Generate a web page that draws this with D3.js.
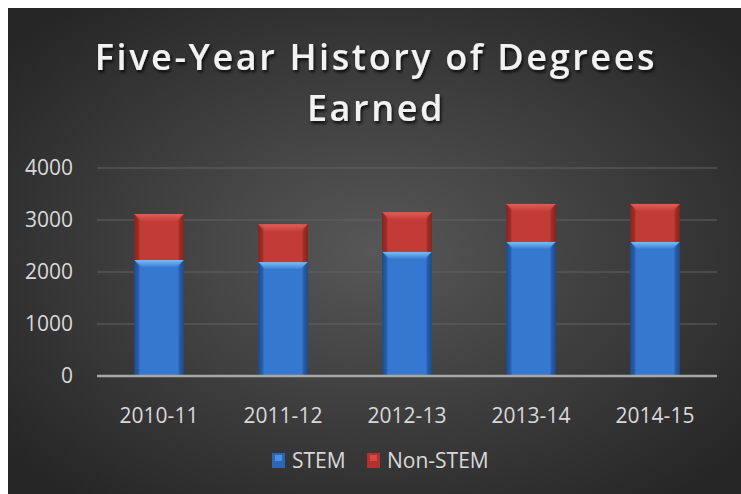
<!DOCTYPE html>
<html>
<head>
<meta charset="utf-8">
<script src="https://cdn.jsdelivr.net/npm/d3@7"></script>
<style>
  html, body { margin: 0; padding: 0; background: #fff; }
  svg { display: block; font-family: "Open Sans", sans-serif; }
</style>
</head>
<body>
<svg id="chart" width="741" height="494"></svg>
<script>
// chart data
const years = ["2010-11", "2011-12", "2012-13", "2013-14", "2014-15"];
const stem = [2230, 2190, 2390, 2580, 2580];
const nonStem = [885, 730, 760, 730, 730];
const yTicks = [0, 1000, 2000, 3000, 4000];
const seriesNames = ["STEM", "Non-STEM"];

const svg = d3.select("#chart");
const W = 741, H = 494;
const margin = {left: 97, right: 24, top: 168, bottom: 118};

const defs = svg.append("defs");

// background panel gradient
const bg = defs.append("radialGradient").attr("id", "bg")
  .attr("cx", "50%").attr("cy", "50%").attr("r", "65%");
bg.append("stop").attr("offset", "0%").attr("stop-color", "#575757");
bg.append("stop").attr("offset", "100%").attr("stop-color", "#262626");

// bar gradients (darker at the sides)
function barGrad(id, edge, mid) {
  const g = defs.append("linearGradient").attr("id", id)
    .attr("x1", 0).attr("x2", 1).attr("y1", 0).attr("y2", 0);
  g.append("stop").attr("offset", "0%").attr("stop-color", edge);
  g.append("stop").attr("offset", "12%").attr("stop-color", mid);
  g.append("stop").attr("offset", "88%").attr("stop-color", mid);
  g.append("stop").attr("offset", "100%").attr("stop-color", edge);
}
barGrad("blueGrad", "#234f8e", "#3478cf");
barGrad("redGrad", "#8e2622", "#c33b36");

// top bevel gradients (light fading down)
function bevelGrad(id, col) {
  const g = defs.append("linearGradient").attr("id", id)
    .attr("x1", 0).attr("x2", 0).attr("y1", 0).attr("y2", 1);
  g.append("stop").attr("offset", "0%").attr("stop-color", col).attr("stop-opacity", 0.95);
  g.append("stop").attr("offset", "100%").attr("stop-color", col).attr("stop-opacity", 0.1);
}
bevelGrad("blueBevel", "#7cc4f7");
bevelGrad("redBevel", "#e2615a");

const shadow = defs.append("filter").attr("id", "tshadow")
  .attr("x", "-10%").attr("y", "-20%").attr("width", "120%").attr("height", "150%");
shadow.append("feDropShadow").attr("dx", 1.5).attr("dy", 2.5)
  .attr("stdDeviation", 1.5).attr("flood-color", "#000").attr("flood-opacity", 0.8);

svg.append("rect").attr("x", 8).attr("y", 8)
  .attr("width", W - 8).attr("height", H - 8).attr("fill", "url(#bg)");

const x = d3.scaleBand().domain(years)
  .range([margin.left, W - margin.right]).paddingInner(0.6).paddingOuter(0.3);
const y = d3.scaleLinear().domain([0, 4000]).range([H - margin.bottom, margin.top]);

// gridlines
svg.append("g").selectAll("line").data(yTicks.slice(1)).join("line")
  .attr("x1", margin.left).attr("x2", W - margin.right)
  .attr("y1", d => y(d)).attr("y2", d => y(d))
  .attr("stroke", "#626262").attr("stroke-width", 1);

// y axis labels
const yAxis = svg.append("g").attr("transform", `translate(${margin.left - 24},0)`)
  .call(d3.axisLeft(y).tickValues(yTicks).tickFormat(d3.format("d")).tickSize(0).tickPadding(0));
yAxis.select(".domain").remove();
yAxis.selectAll("text").attr("fill", "#d9d9d9")
  .style("font-size", "21px").style("font-family", "'Open Sans', sans-serif");

// stacked bars
const rows = years.map((yr, i) => ({year: yr, s: stem[i], n: nonStem[i]}));
const bars = svg.append("g").selectAll("g").data(rows).join("g");

function drawSeg(sel, y0, y1, grad, bevel, lo) {
  const bw = x.bandwidth();
  sel.append("rect")
    .attr("x", d => x(d.year)).attr("width", bw)
    .attr("y", d => y(y1(d))).attr("height", d => y(y0(d)) - y(y1(d)))
    .attr("fill", `url(#${grad})`);
  // top bevel
  sel.append("path")
    .attr("d", d => {
      const x0 = x(d.year), t = y(y1(d));
      return `M${x0},${t}L${x0 + bw},${t}L${x0 + bw - 7},${t + 7}L${x0 + 7},${t + 7}Z`;
    })
    .attr("fill", `url(#${bevel})`);
  // side bevels
  sel.append("path")
    .attr("d", d => {
      const x0 = x(d.year), t = y(y1(d)), b = y(y0(d));
      return `M${x0},${t}L${x0 + 5},${t + 7}L${x0 + 5},${b}L${x0},${b}Z` +
             `M${x0 + bw},${t}L${x0 + bw - 5},${t + 7}L${x0 + bw - 5},${b}L${x0 + bw},${b}Z`;
    })
    .attr("fill", lo).attr("opacity", 0.35);
}
drawSeg(bars, d => 0, d => d.s, "blueGrad", "blueBevel", "#1b4585");
drawSeg(bars, d => d.s, d => d.s + d.n, "redGrad", "redBevel", "#7a1f1b");

// zero axis line
svg.append("line")
  .attr("x1", margin.left).attr("x2", W - margin.right)
  .attr("y1", y(0)).attr("y2", y(0))
  .attr("stroke", "#a8a8a8").attr("stroke-width", 2.5);

// x axis labels
const xAxis = svg.append("g").attr("transform", `translate(0,${y(0)})`)
  .call(d3.axisBottom(x).tickSize(0).tickPadding(32));
xAxis.select(".domain").remove();
xAxis.selectAll("text").attr("fill", "#d9d9d9")
  .style("font-size", "21px").style("font-family", "'Open Sans', sans-serif");

// title
const title = svg.append("text").attr("x", 376).attr("text-anchor", "middle")
  .attr("fill", "#f2f2f2").attr("font-weight", 600)
  .style("font-size", "36px").attr("filter", "url(#tshadow)");
title.append("tspan").attr("x", 376).attr("y", 70).text("Five-Year History of Degrees");
title.append("tspan").attr("x", 376).attr("y", 121).text("Earned");
title.style("letter-spacing", "2.6px");

// legend
const legColors = [["#2a66b8", "#4d8fdc"], ["#b3302c", "#d24a44"]];
const legX = [272, 367];
const leg = svg.append("g").selectAll("g").data(seriesNames).join("g")
  .attr("transform", (d, i) => `translate(${legX[i]},453)`);
leg.append("rect").attr("width", 13).attr("height", 15)
  .attr("fill", (d, i) => legColors[i][0]);
leg.append("rect").attr("x", 3).attr("y", 2).attr("width", 7).attr("height", 6)
  .attr("fill", (d, i) => legColors[i][1]);
leg.append("text").attr("x", 20).attr("y", 15)
  .attr("fill", "#d9d9d9").style("font-size", "21px").text(d => d);
</script>
</body>
</html>
